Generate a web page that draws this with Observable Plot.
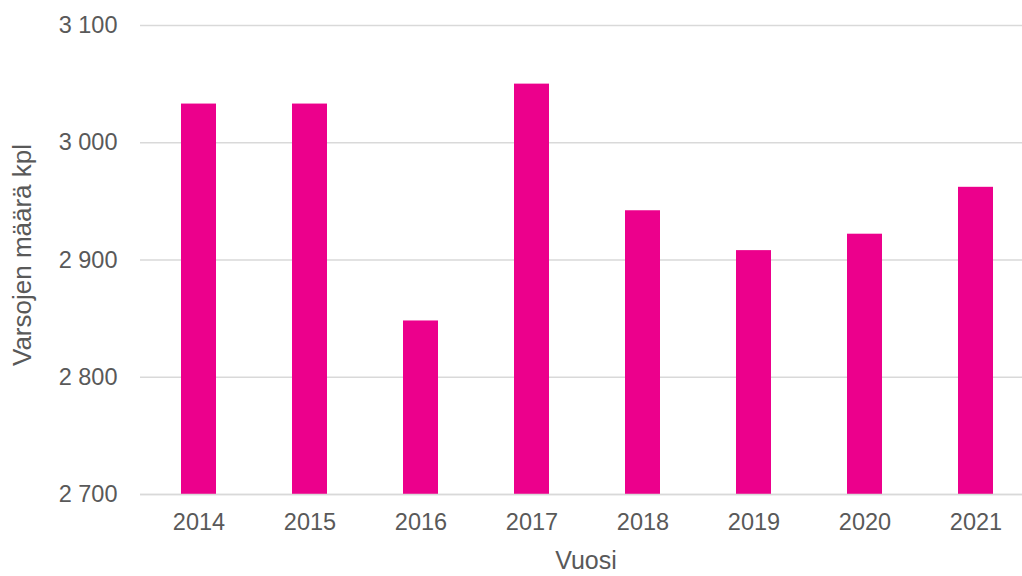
<!DOCTYPE html>
<html>
<head>
<meta charset="utf-8">
<script src="https://cdn.jsdelivr.net/npm/d3@7"></script>
<script src="https://cdn.jsdelivr.net/npm/@observablehq/plot@0.6"></script>
<style>
  html, body { margin: 0; padding: 0; background: #fff; overflow: hidden; }
  #chart svg { overflow: hidden; }
</style>
</head>
<body>
<div id="chart"></div>
<script>
const years = ["2014", "2015", "2016", "2017", "2018", "2019", "2020", "2021"];
const foals = [3033, 3033, 2848, 3050, 2942, 2908, 2922, 2962];
const yTicks = [2700, 2800, 2900, 3000, 3100];
const yLabel = "Varsojen määrä kpl";
const xLabel = "Vuosi";

const data = years.map((y, i) => ({year: y, value: foals[i]}));
const fmt = v => d3.format(",")(v).replace(/,/g, " ");
const textColor = "#595959";
const font = "Liberation Sans, Arial, sans-serif";

const chart = Plot.plot({
  width: 1022,
  height: 576,
  marginTop: 25,
  marginBottom: 82,
  marginLeft: 140,
  marginRight: 0,
  style: {fontFamily: font, fontSize: "23.5px", color: textColor, background: "#fff"},
  x: {domain: years, range: [140, 1033], paddingInner: 0.686, paddingOuter: 0.343, label: null},
  y: {domain: [2700, 3100], label: null},
  marks: [
    Plot.ruleY(yTicks, {stroke: "#d9d9d9", strokeWidth: 1.5}),
    Plot.barY(data, {x: "year", y1: 2700, y2: "value", fill: "#EC008C"}),
    Plot.ruleY([2700], {stroke: "#d9d9d9", strokeWidth: 1.5}),
    Plot.axisY({ticks: yTicks, tickFormat: fmt, tickSize: 0, tickPadding: 23, fill: textColor, fontSize: 23.5}),
    Plot.axisX({tickSize: 0, tickPadding: 19, fill: textColor, fontSize: 23.5})
  ]
});

const svg = d3.select(chart);
svg.append("text")
  .attr("transform", "translate(31,255) rotate(-90)")
  .attr("text-anchor", "middle")
  .attr("fill", textColor)
  .attr("font-family", font)
  .attr("font-size", 26)
  .text(yLabel);
svg.append("text")
  .attr("x", 586)
  .attr("y", 569)
  .attr("text-anchor", "middle")
  .attr("fill", textColor)
  .attr("font-family", font)
  .attr("font-size", 25)
  .text(xLabel);

document.getElementById("chart").appendChild(chart);
</script>
</body>
</html>
